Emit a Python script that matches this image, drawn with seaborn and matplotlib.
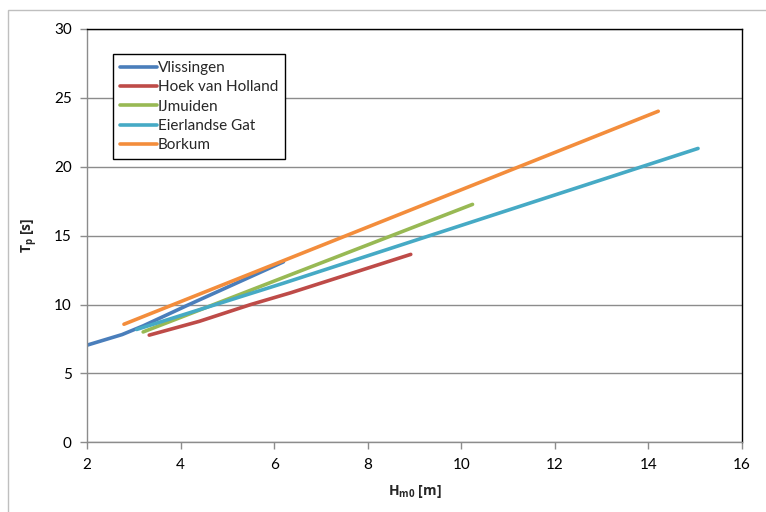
import matplotlib
matplotlib.use("Agg")
import matplotlib.pyplot as plt
import seaborn as sns
import pandas as pd
from matplotlib.patches import Rectangle

sns.set_theme(style="white")
plt.rcParams['font.family'] = ['Lato', 'DejaVu Sans']
plt.rcParams['mathtext.fontset'] = 'custom'
plt.rcParams['mathtext.bf'] = 'Open Sans:bold'
plt.rcParams['mathtext.rm'] = 'Open Sans'

stations = ["Vlissingen", "Hoek van Holland", "IJmuiden", "Eierlandse Gat", "Borkum"]
colors = ["#4A7EBB", "#BE4B48", "#98B954", "#46AAC5", "#F38D3C"]

vlis_h = [2.0, 2.75, 3.2, 4.15, 6.2]
vlis_t = [7.05, 7.82, 8.45, 9.95, 13.1]
hoek_h = [3.33, 4.4, 5.5, 6.35, 8.92]
hoek_t = [7.78, 8.78, 10.0, 10.85, 13.64]
ijm_h = [3.2, 6.12, 10.24]
ijm_t = [8.01, 11.86, 17.27]
eier_h = [3.06, 6.2, 15.06]
eier_t = [8.19, 11.55, 21.33]
bork_h = [2.79, 14.21]
bork_t = [8.57, 24.03]

series_h = [vlis_h, hoek_h, ijm_h, eier_h, bork_h]
series_t = [vlis_t, hoek_t, ijm_t, eier_t, bork_t]

xticks = [2, 4, 6, 8, 10, 12, 14, 16]
yticks = [0, 5, 10, 15, 20, 25, 30]

rows = []
for name, hs, ts in zip(stations, series_h, series_t):
    for h, t in zip(hs, ts):
        rows.append({"station": name, "H": h, "T": t})
df = pd.DataFrame(rows)

fig = plt.figure(figsize=(7.66, 5.12), dpi=100)
ax = fig.add_axes([87/766, 1-442.3/512, (742-87)/766, (442.3-29)/512])

sns.lineplot(data=df, x="H", y="T", hue="station", hue_order=stations,
             palette=dict(zip(stations, colors)), sort=False, estimator=None,
             linewidth=2.6, ax=ax, legend=True)
for l in ax.lines:
    l.set_solid_capstyle('round')

ax.set_xlim(2, 16)
ax.set_ylim(0, 30)
ax.set_xticks(xticks)
ax.set_yticks(yticks)
ax.yaxis.grid(True, color="#8C8C8C", linewidth=1.0)
ax.xaxis.grid(False)
ax.set_axisbelow(True)

for s in ["left", "bottom"]:
    ax.spines[s].set_color("#8C8C8C")
    ax.spines[s].set_linewidth(1.0)
for s in ["top", "right"]:
    ax.spines[s].set_color("black")
    ax.spines[s].set_linewidth(1.0)
ax.tick_params(axis="both", direction="out", length=5, width=1, color="#8C8C8C",
               labelsize=11, labelcolor="black", pad=6)
ax.tick_params(left=True, bottom=True)

ax.set_xlabel(r"H$_{\mathbf{m0}}$ [m]", family="Open Sans", fontweight="bold",
              fontsize=10, labelpad=8)
ax.set_ylabel(r"T$_{\mathbf{p}}$ [s]", family="Open Sans", fontweight="bold",
              fontsize=10, labelpad=10)

handles, labels = ax.get_legend_handles_labels()
leg = ax.legend(handles, labels, loc="upper left", bbox_to_anchor=(26/655, 1-25/413.3),
                frameon=True, fancybox=False, framealpha=1, edgecolor="black",
                fontsize=11, handlelength=2.4, handletextpad=0.1, labelspacing=0.35,
                borderpad=0.45, borderaxespad=0)
leg.get_frame().set_linewidth(1.0)
for lh in leg.get_lines():
    lh.set_linewidth(2.6)

fig.patches.append(Rectangle((8/766, -0.2), 1.2, 1.2 - 10/512, transform=fig.transFigure,
                             fill=False, edgecolor="#BFBFBF", linewidth=1.0))

fig.savefig("out.png", dpi=100, facecolor="white")
